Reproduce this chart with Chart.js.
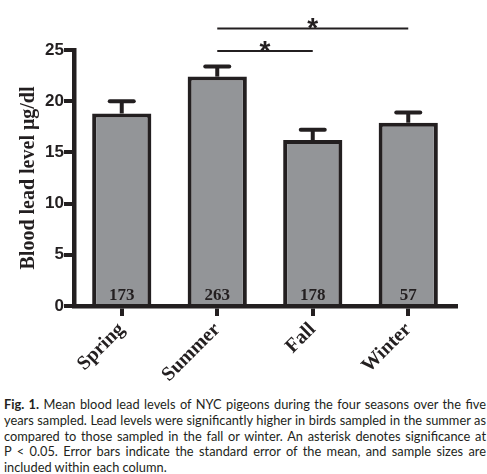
<!DOCTYPE html>
<html>
<head>
<meta charset="utf-8">
<script src="https://cdn.jsdelivr.net/npm/chart.js@4.4.0/dist/chart.umd.min.js"></script>
<style>
  html, body { margin: 0; padding: 0; background: #fff; }
  body { width: 487px; height: 474px; overflow: hidden; position: relative; }
  #wrap { position: absolute; left: 0; top: 0; width: 487px; height: 390px; }
  #caption { position: absolute; left: 4px; top: 397px; width: 482px; font-family: Lato, sans-serif; font-size: 12.8px; line-height: 15.8px; color: #231f20; }
  #caption span { display: block; text-align: justify; text-align-last: justify; white-space: nowrap; }
  #caption span.last { text-align-last: left; }
</style>
</head>
<body>
<div id="wrap"><canvas id="leadChart"></canvas></div>
<div id="caption">
  <span><b>Fig. 1.</b> Mean blood lead levels of NYC pigeons during the four seasons over the five</span>
  <span>years sampled. Lead levels were significantly higher in birds sampled in the summer as</span>
  <span>compared to those sampled in the fall or winter. An asterisk denotes significance at</span>
  <span>P &lt; 0.05. Error bars indicate the standard error of the mean, and sample sizes are</span>
  <span class="last">included within each column.</span>
</div>
<script>
const seasons = ['Spring', 'Summer', 'Fall', 'Winter'];
const meanLead = [18.8, 22.4, 16.2, 17.9];
const semLead = [1.2, 1.0, 1.0, 1.0];
const sampleSizes = [173, 263, 178, 57];
// significance brackets (category index from/to, height in ug/dl)
const sigFrom = [1, 1];
const sigTo = [2, 3];
const sigLevel = [24.9, 27.1];

const ink = '#231f20';

const extras = {
    id: 'extras',
    afterDatasetsDraw(chart) {
        const { ctx, scales: { x, y } } = chart;
        ctx.save();

        // error bars, upper half only
        ctx.strokeStyle = ink;
        ctx.lineWidth = 4;
        meanLead.forEach((m, i) => {
            const cx = x.getPixelForValue(i);
            const top = y.getPixelForValue(m + semLead[i]);
            ctx.beginPath();
            ctx.moveTo(cx, y.getPixelForValue(m));
            ctx.lineTo(cx, top);
            ctx.stroke();
            ctx.lineCap = 'round';
            ctx.beginPath();
            ctx.moveTo(cx - 12, top);
            ctx.lineTo(cx + 12, top);
            ctx.stroke();
            ctx.lineCap = 'butt';
        });

        // sample sizes inside the columns
        ctx.fillStyle = ink;
        ctx.font = 'bold 17px "Liberation Serif"';
        ctx.textAlign = 'center';
        ctx.textBaseline = 'alphabetic';
        sampleSizes.forEach((n, i) => {
            ctx.fillText(String(n), x.getPixelForValue(i), y.getPixelForValue(0) - 6);
        });

        // significance lines + asterisks
        ctx.lineWidth = 2;
        ctx.font = 'bold 28px "Liberation Sans"';
        sigFrom.forEach((f, k) => {
            const x1 = x.getPixelForValue(f);
            const x2 = x.getPixelForValue(sigTo[k]);
            const ly = y.getPixelForValue(sigLevel[k]);
            ctx.beginPath();
            ctx.moveTo(x1, ly);
            ctx.lineTo(x2, ly);
            ctx.stroke();
            ctx.fillText('*', (x1 + x2) / 2, ly + 9);
        });
        ctx.restore();
    }
};

new Chart(document.getElementById('leadChart'), {
    type: 'bar',
    data: {
        labels: seasons,
        datasets: [{
            data: meanLead,
            backgroundColor: '#939598',
            borderColor: ink,
            borderWidth: 4,
            borderSkipped: 'bottom',
            barPercentage: 0.62,
            categoryPercentage: 1.0
        }]
    },
    options: {
        responsive: true, maintainAspectRatio: false,
        animation: false,
        layout: { padding: { top: 50, right: 31, left: 0, bottom: 0 } },
        plugins: { legend: { display: false }, tooltip: { enabled: false } },
        scales: {
            y: {
                min: 0, max: 25,
                ticks: { stepSize: 5, padding: 0, color: ink, font: { family: 'Liberation Sans', weight: 'bold', size: 17 } },
                grid: { drawOnChartArea: false, tickLength: 10, color: ink, lineWidth: 4 },
                border: { display: true, color: ink, width: 4.5 },
                title: { display: true, text: 'Blood lead level \u03bcg/dl', color: ink, padding: { top: 17, bottom: 0 },
                         font: { family: 'Liberation Serif', weight: 'bold', size: 20 } },
                afterFit: s => { s.width = 74; }
            },
            x: {
                ticks: { minRotation: 45, maxRotation: 45, padding: 2, color: ink,
                         font: { family: 'Liberation Serif', weight: 'bold', size: 20 } },
                grid: { drawOnChartArea: false, offset: false, tickLength: 10, color: ink, lineWidth: 4 },
                border: { display: true, color: ink, width: 4.5 },
                afterFit: s => { s.height = 84; }
            }
        }
    },
    plugins: [extras]
});
</script>
</body>
</html>
